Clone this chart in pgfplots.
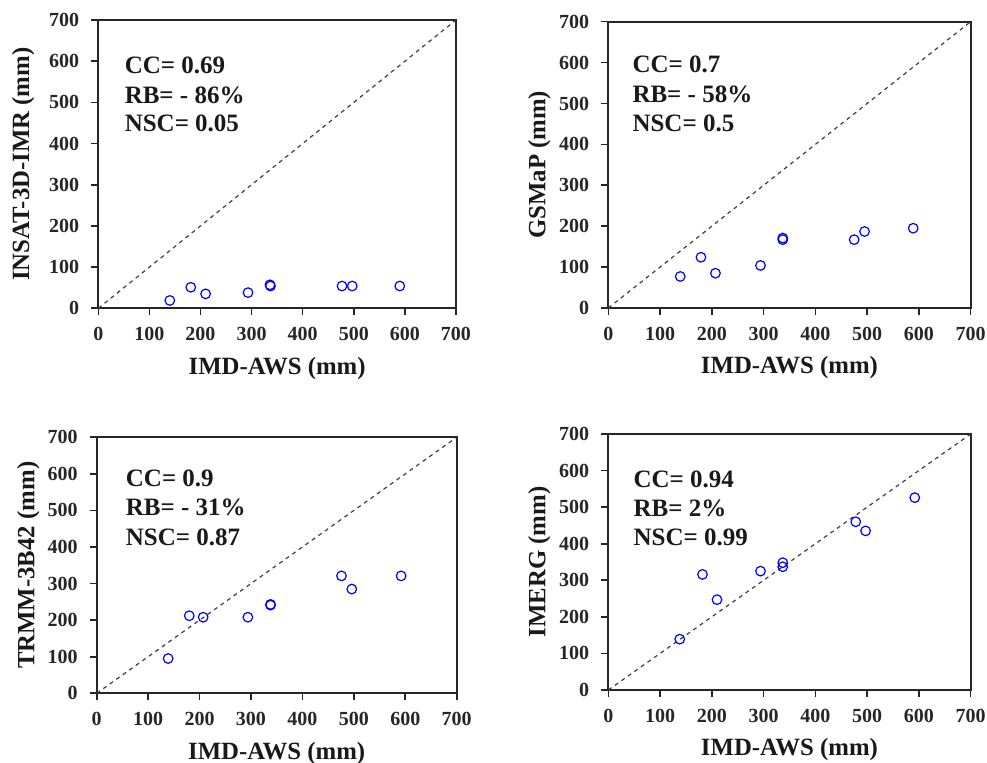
\documentclass[border=0pt]{standalone}
\usepackage{fontspec}
\setmainfont{Liberation Serif}
\usepackage{pgfplots}
\pgfplotsset{compat=1.18}
\tikzset{st/.style={anchor=west, font=\bfseries\fontsize{12.5}{14}\selectfont, text=black!90, inner sep=0pt}}
\pgfplotsset{
  panel/.style={
    scale only axis,
    xmin=0, xmax=700, ymin=0, ymax=700,
    xtick={0,100,...,700}, ytick={0,100,...,700},
    xtick pos=bottom, ytick pos=left,
    tick align=outside,
    major tick length=3.5pt,
    xticklabel shift=2.5pt, yticklabel shift=2.5pt,
    axis line style={black!85, line width=0.9pt},
    every tick/.style={black!85, line width=0.8pt},
    /pgf/number format/assume math mode=true,
    tick label style={font=\bfseries\fontsize{10}{12}\selectfont, text=black!85},
    label style={font=\bfseries\fontsize{12.4}{14}\selectfont, text=black!90},
    xlabel={IMD-AWS (mm)},
    clip=false,
  },
  pts/.style={only marks, mark=o, mark size=2.4pt, color=blue, mark options={line width=0.6pt}},
  one/.style={no marks, dash pattern=on 2pt off 2pt, line width=0.6pt, black!75},
}
\begin{document}
\begin{tikzpicture}
\path[use as bounding box] (0,0) rectangle (493.5pt,381.5pt);
% Top-left
\begin{axis}[panel, at={(49.15pt,227.35pt)}, anchor=south west, width=178.85pt, height=144.15pt,
  ylabel={INSAT-3D-IMR (mm)},
  xlabel style={at={(axis description cs:0.5,0)}, anchor=center, yshift=-30pt},
  ylabel style={at={(axis description cs:-0.21,0.5)}, anchor=center}]
\addplot[one] coordinates {(0,0) (700,700)};
\addplot[pts] coordinates {(140,19) (181,51) (210,35) (293,38) (336,57) (337,54) (477,54) (497,54) (590,54)};
\node[st] at (axis cs:51,590) {CC= 0.69};
\node[st] at (axis cs:51,518) {RB= - 86\%};
\node[st] at (axis cs:51,449) {NSC= 0.05};
\end{axis}
% Top-right
\begin{axis}[panel, at={(304.15pt,227.5pt)}, anchor=south west, width=181.2pt, height=143.15pt,
  ylabel={GSMaP (mm)},
  xlabel style={at={(axis description cs:0.5,0)}, anchor=center, yshift=-30pt},
  ylabel style={at={(axis description cs:-0.19,0.5)}, anchor=center}]
\addplot[one] coordinates {(0,0) (700,700)};
\addplot[pts] coordinates {(139,77) (179,124) (207,85) (294,104) (337,171) (337,167) (475,167) (495,187) (589,195)};
\node[st] at (axis cs:46,595) {CC= 0.7};
\node[st] at (axis cs:46,523) {RB= - 58\%};
\node[st] at (axis cs:46,452) {NSC= 0.5};
\end{axis}
% Bottom-left
\begin{axis}[panel, at={(48.35pt,34.85pt)}, anchor=south west, width=180pt, height=128pt,
  ylabel={TRMM-3B42 (mm)},
  xlabel style={at={(axis description cs:0.5,0)}, anchor=center, yshift=-30pt},
  ylabel style={at={(axis description cs:-0.19,0.5)}, anchor=center}]
\addplot[one] coordinates {(0,0) (700,700)};
\addplot[pts] coordinates {(139,95) (180,212) (207,208) (294,208) (338,243) (338,241) (476,321) (496,285) (592,321)};
\node[st] at (axis cs:56,588) {CC= 0.9};
\node[st] at (axis cs:56,509) {RB= - 31\%};
\node[st] at (axis cs:56,427) {NSC= 0.87};
\end{axis}
% Bottom-right
\begin{axis}[panel, at={(304.15pt,36.5pt)}, anchor=south west, width=181.2pt, height=128pt,
  ylabel={IMERG (mm)},
  xlabel style={at={(axis description cs:0.5,0)}, anchor=center, yshift=-30pt},
  ylabel style={at={(axis description cs:-0.19,0.5)}, anchor=center}]
\addplot[one] coordinates {(0,0) (700,700)};
\addplot[pts] coordinates {(138,139) (182,316) (210,247) (294,325) (337,348) (337,337) (478,460) (497,435) (592,526)};
\node[st] at (axis cs:48,577) {CC= 0.94};
\node[st] at (axis cs:48,498) {RB= 2\%};
\node[st] at (axis cs:48,418) {NSC= 0.99};
\end{axis}
\end{tikzpicture}
\end{document}
